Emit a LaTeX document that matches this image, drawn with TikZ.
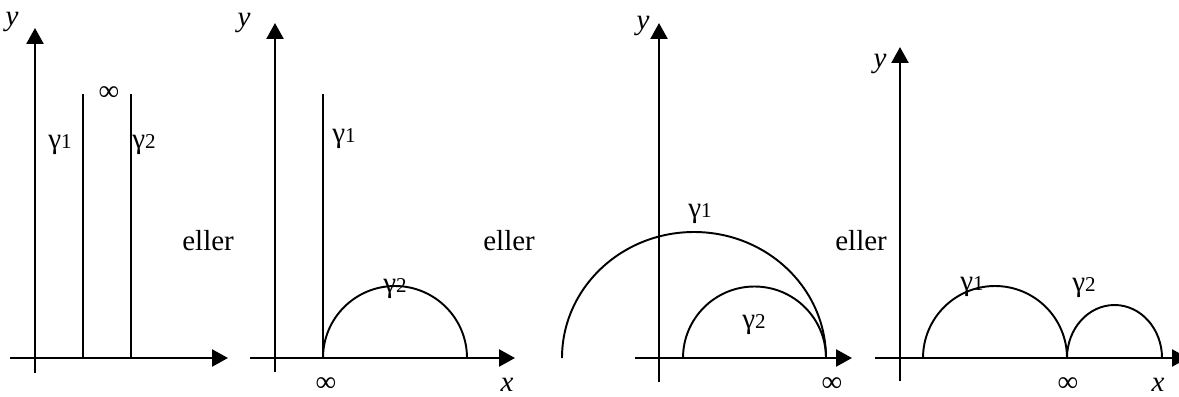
\documentclass[tikz,border=0pt]{standalone}
\usepackage{fontspec}
\setmainfont{Liberation Serif}
\usetikzlibrary{arrows.meta}
\newcommand{\gam}[1]{γ\raisebox{-0.4pt}{\fontsize{12}{14}\selectfont #1}}
\tikzset{
  axis/.style={line width=1.4pt,-{Triangle[width=0.34cm,length=0.32cm]}},
  geod/.style={line width=1.1pt},
  lbl/.style={inner sep=0pt,font=\fontsize{16.5}{19}\selectfont},
  glbl/.style={lbl,anchor=base west},
}
\begin{document}
\begin{tikzpicture}[x=0.02cm,y=0.02cm]
  \useasboundingbox (0,0) rectangle (1179,-396);
  % first panel
  \coordinate (ya1) at (35,-373);  \coordinate (yb1) at (35,-28);
  \coordinate (xa1) at (10,-358);  \coordinate (xb1) at (228,-358);
  \coordinate (g1t) at (83,-94);   \coordinate (g1b) at (83,-358);
  \coordinate (g2t) at (131,-94);  \coordinate (g2b) at (131,-358);
  \draw[axis] (ya1) -- (yb1);
  \draw[axis] (xa1) -- (xb1);
  \draw[geod] (g1t) -- (g1b);
  \draw[geod] (g2t) -- (g2b);
  \node[lbl]  (y1)   at (12,-22)   {\textit{y}};
  \node[lbl]  (inf1) at (109,-94)  {∞};
  \node[glbl] (ga1)  at (48,-148)  {\gam{1}};
  \node[glbl] (gb1)  at (132,-148) {\gam{2}};
  \node[glbl] (or1)  at (182,-250) {eller};
  % second panel
  \coordinate (ya2) at (275,-372); \coordinate (yb2) at (275,-23);
  \coordinate (xa2) at (250,-358); \coordinate (xb2) at (515,-358);
  \coordinate (h1t) at (323,-94);  \coordinate (h1b) at (323,-358);
  \draw[axis] (ya2) -- (yb2);
  \draw[axis] (xa2) -- (xb2);
  \draw[geod] (h1t) -- (h1b);
  \draw[geod] (h1b) arc[start angle=180,end angle=0,radius=72];
  \node[lbl]  (y2)   at (244,-23)  {\textit{y}};
  \node[glbl] (ga2)  at (332,-142) {\gam{1}};
  \node[glbl] (gb2)  at (383,-292) {\gam{2}};
  \node[lbl]  (inf2) at (326,-385) {∞};
  \node[lbl]  (x2)   at (507,-385) {\textit{x}};
  \node[glbl] (or2)  at (483,-250) {eller};
  % third panel
  \coordinate (ya3) at (659,-382); \coordinate (yb3) at (659,-23);
  \coordinate (xa3) at (635,-358); \coordinate (xb3) at (852,-358);
  \coordinate (k1r) at (826,-358); \coordinate (k2l) at (683,-358);
  \draw[axis] (ya3) -- (yb3);
  \draw[axis] (xa3) -- (xb3);
  \draw[geod] (k1r) arc[start angle=0,end angle=180,x radius=132,y radius=126];
  \draw[geod] (k2l) arc[start angle=180,end angle=0,radius=71.5];
  \node[lbl]  (y3)   at (643,-26)  {\textit{y}};
  \node[glbl] (ga3)  at (688,-217) {\gam{1}};
  \node[glbl] (gb3)  at (742,-328) {\gam{2}};
  \node[lbl]  (inf3) at (832,-385) {∞};
  \node[glbl] (or3)  at (835,-250) {eller};
  % fourth panel
  \coordinate (ya4) at (900,-381); \coordinate (yb4) at (900,-47);
  \coordinate (xa4) at (875,-358); \coordinate (xb4) at (1188,-358);
  \coordinate (m1l) at (923,-358); \coordinate (m2l) at (1067,-358);
  \draw[axis] (ya4) -- (yb4);
  \draw[axis] (xa4) -- (xb4);
  \draw[geod] (m1l) arc[start angle=180,end angle=0,radius=72];
  \draw[geod] (m2l) arc[start angle=180,end angle=0,x radius=47.5,y radius=53];
  \node[lbl]  (y4)   at (880,-64)   {\textit{y}};
  \node[glbl] (ga4)  at (960,-290)  {\gam{1}};
  \node[glbl] (gb4)  at (1072,-291) {\gam{2}};
  \node[lbl]  (inf4) at (1068,-385) {∞};
  \node[lbl]  (x4)   at (1158,-385) {\textit{x}};
\end{tikzpicture}
\end{document}
